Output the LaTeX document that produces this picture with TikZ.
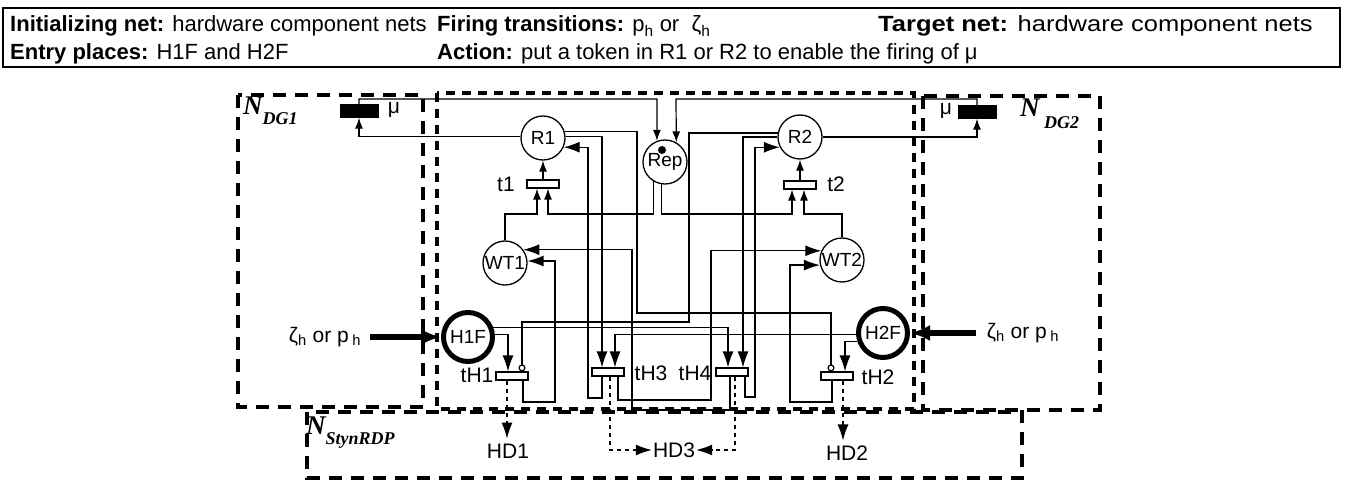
\documentclass[tikz,border=0pt]{standalone}
\usepackage{fontspec}
\usepackage{graphicx}
\setmainfont{Liberation Sans}
\newfontfamily\nfont{Liberation Serif}
\usetikzlibrary{arrows.meta}

\begin{document}
\begin{tikzpicture}[x=1pt, y=-1pt,
    place/.style={draw, circle, minimum size=44pt, inner sep=0pt, line width=1.3pt, font=\fontsize{19}{19}\selectfont},
    hplace/.style={place, minimum size=49pt, line width=5pt},
    trans/.style={draw, fill=white, minimum width=32pt, minimum height=8pt, inner sep=0pt, line width=1.2pt},
    mutrans/.style={draw, fill=black, minimum width=38pt, minimum height=13pt, inner sep=0pt},
    lbl/.style={inner sep=1pt, font=\fontsize{21}{21}\selectfont},
    hdr/.style={anchor=base west, inner sep=0pt, font=\fontsize{22}{22}\selectfont},
    netlbl/.style={anchor=north west, inner sep=0pt, font=\nfont\bfseries\itshape},
    arc/.style={-{Latex[length=16pt, width=11pt]}, line width=1.2pt},
    sarc/.style={-{Latex[length=11pt, width=8pt]}, line width=1.2pt},
    inhib/.style={-{Circle[open, length=7pt, width=7pt, line width=1.2pt]}, line width=1.2pt},
    dasharc/.style={arc, dash pattern=on 4pt off 4pt},
    inarc/.style={-{Latex[length=20pt, width=16pt]}, line width=6pt},
    netbox/.style={line width=3.5pt, dash pattern=on 13pt off 9pt},
    corebox/.style={line width=4pt, dash pattern=on 9pt off 7pt}]

    \useasboundingbox (0,0) rectangle (1345,484);

    % Kopfzeile
    \draw[line width=1.8pt] (3,8) rectangle (1340,67);
    \node[hdr] (init)  at (10,32)  {\textbf{Initializing net:} hardware component nets};
    \node[hdr] (fire)  at (437,32) {\textbf{Firing transitions:} p\textsubscript{h} or \ ζ\textsubscript{h}};
    \node[hdr] (targ)  at (878,32) {\scalebox{1.16}[1]{\textbf{Target net:} hardware component nets}};
    \node[hdr] (entry) at (10,60)  {\textbf{Entry places:} H1F and H2F};
    \node[hdr] (act)   at (437,60) {\textbf{Action:} put a token in R1 or R2 to enable the firing of μ};

    % Netzrahmen (gestrichelt)
    \draw[netbox]  (238,95) rectangle (423,407);
    \draw[netbox]  (923,96) rectangle (1100,410);
    \draw[netbox]  (307,412) rectangle (1022,478);
    \draw[corebox] (437,93) rectangle (914,409);
    \node[netlbl] (ndg1)  at (243,97)  {\fontsize{27}{27}\selectfont N\raisebox{-10pt}{\fontsize{18}{18}\selectfont DG1}};
    \node[netlbl] (ndg2)  at (1020,99) {\fontsize{27}{27}\selectfont N\,\raisebox{-12pt}{\fontsize{18}{18}\selectfont DG2}};
    \node[netlbl] (nstyn) at (306,417) {\fontsize{27}{27}\selectfont N\raisebox{-10pt}{\fontsize{18}{18}\selectfont StynRDP}};

    % Stellen
    \node[place]  (R1)  at (543,138) {R1};
    \node[place]  (R2)  at (800,137) {R2};
    \node[place]  (Rep) at (665,162) {Rep};
    \node[place]  (WT1) at (505,263) {WT1};
    \node[place]  (WT2) at (842,260) {WT2};
    \node[hplace] (H1F) at (468,337) {H1F};
    \node[hplace] (H2F) at (883,333) {H2F};
    \node[circle, fill, inner sep=0pt, minimum size=8pt] (tok) at (662,150) {};
    \node[lbl] (HD1) at (508,451) {HD1};
    \node[lbl] (HD2) at (847,453) {HD2};
    \node[lbl] (HD3) at (674,450) {HD3};

    % Transitionen
    \node[trans]   (t1)  at (543,184) {};
    \node[trans]   (t2)  at (800,185) {};
    \node[trans]   (tH1) at (512,376) {};
    \node[trans]   (tH2) at (837,376) {};
    \node[trans]   (tH3) at (608,372) {};
    \node[trans]   (tH4) at (732,372) {};
    \node[mutrans] (mu1) at (359,111) {};
    \node[mutrans] (mu2) at (977,112) {};

    % Beschriftungen
    \node[lbl] at (506,184) {t1};
    \node[lbl] at (836,184) {t2};
    \node[lbl] at (477,375) {tH1};
    \node[lbl] at (878,377) {tH2};
    \node[lbl] at (651,373) {tH3};
    \node[lbl] at (695,373) {tH4};
    \node[lbl] at (394,110) {μ};
    \node[lbl] at (946,111) {μ};
    \node[lbl] (inL) at (325,337) {ζ\textsubscript{h} or p\,\textsubscript{h}};
    \node[lbl] (inR) at (1023,333) {ζ\textsubscript{h} or p\,\textsubscript{h}};

    % Eingangsmarken
    \draw[inarc, shorten <=8pt] (inL.east |- H1F.west) -- (H1F.west);
    \draw[inarc, shorten <=10pt] (inR.west |- H2F.east) -- (H2F.east);

    % Kanten oben: R -> mu -> Rep
    \draw[sarc] (R1.177) -| (mu1.south);
    \draw[sarc] (mu1.north) |- (657,99) -- (Rep.111);
    \draw[sarc] (R2.0) -| (mu2.south);
    \draw[sarc] (mu2.north) |- (676,99) -- (Rep.60);

    % Kanten um t1 und t2
    \draw[sarc] (t1.north) -- (R1.south);
    \draw[sarc] (t2.north) -- (R2.south);
    \draw[sarc] (WT1.north) |- (537,214) -- ([xshift=-6pt]t1.south);
    \draw[sarc] (Rep.-121) |- (548,214) -- ([xshift=5pt]t1.south);
    \draw[sarc] (Rep.-99) |- (792,214) -- ([xshift=-8pt]t2.south);
    \draw[sarc] (WT2.north) |- (804,214) -- ([xshift=4pt]t2.south);

    % Kanten von und zu R1, R2
    \draw[arc]   (R1.3) -| ([xshift=-6pt]tH3.north);
    \draw[inhib] (R1.16) -| (637,313) -| ([xshift=-6pt]tH2.north);
    \draw[arc]   ([xshift=-6pt]tH3.south) |- (588,398) |- (R1.-24);
    \draw[arc]   (R2.180) -| ([xshift=11pt]tH4.north);
    \draw[inhib] (R2.170) -| (689,322) -| ([xshift=10pt]tH1.north);
    \draw[arc]   ([xshift=13pt]tH4.south) |- (755,397) |- (R2.207);

    % Kanten zu WT1, WT2
    \draw[arc] ([xshift=11pt]tH1.south) |- (555,402) |- (WT1.5);
    \draw[arc] ([xshift=-2pt]tH4.south) |- (632,410) |- (WT1.36);
    \draw[arc] ([xshift=10pt]tH3.south) |- (711,400) |- (WT2.156);
    \draw[arc] ([xshift=-5pt]tH2.south) |- (790,402) |- (WT2.193);

    % Kanten von H1F, H2F
    \draw[arc] (H1F.5) -| ([xshift=-4pt]tH1.north);
    \draw[arc] (H1F.21) -| ([xshift=-4pt]tH4.north);
    \draw[arc] (H2F.184) -| ([xshift=7pt]tH3.north);
    \draw[arc] (H2F.198) -| ([xshift=8pt]tH2.north);

    % Kanten zu HD1, HD2, HD3
    \draw[dasharc, shorten >=4pt] ([xshift=-5pt]tH1.south) -- ([xshift=-1pt]HD1.north);
    \draw[dasharc, shorten >=4pt] ([xshift=6pt]tH2.south) -- ([xshift=-4pt]HD2.north);
    \draw[dasharc] ([xshift=2pt]tH3.south) |- (HD3.west);
    \draw[dasharc] ([xshift=3pt]tH4.south) |- (HD3.east);

\end{tikzpicture}
\end{document}
